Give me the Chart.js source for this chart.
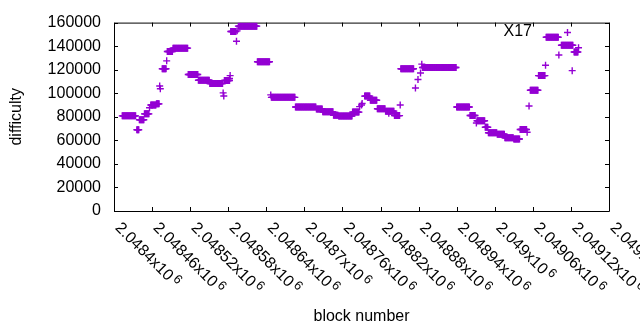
<!DOCTYPE html>
<html><head><meta charset="utf-8">
<script src="https://cdn.jsdelivr.net/npm/chart.js@4.4.1/dist/chart.umd.min.js"></script>
<style>html,body{margin:0;padding:0;background:#fff}#wrap{width:640px;height:330px}</style>
</head><body><div id="wrap"><canvas id="c" width="640" height="330"></canvas></div>
<script>
// ---- data ----
// runs of blocks with the same difficulty
const runStart = [2048413,2048436,2048440,2048448,2048458,2048467,2048476,2048484,2048493,2048517,2048533,2048551,2048574,2048584,2048596,2048626,2048648,2048686,2048719,2048729,2048746,2048754,2048776,2048795,2048804,2048815,2048828,2048842,2048852,2048886,2048940,2048961,2048972,2048985,2048990,2049004,2049016,2049030,2049040,2049056,2049069,2049081,2049105,2049125];
const runEnd   = [2048434,2048439,2048447,2048455,2048466,2048471,2048482,2048492,2048516,2048532,2048550,2048571,2048582,2048592,2048625,2048645,2048685,2048718,2048728,2048745,2048753,2048775,2048786,2048803,2048814,2048827,2048841,2048850,2048872,2048939,2048960,2048969,2048984,2048989,2049003,2049015,2049029,2049039,2049050,2049068,2049079,2049100,2049123,2049131];
const runValue = [80800,69000,77500,82500,90000,91000,120800,135500,138300,115900,111000,108300,110800,152500,157000,126700,96500,88300,86700,84200,81300,80700,84000,97600,94100,86900,84800,81000,120800,121900,88300,81100,76700,71100,66400,65200,62200,61100,69200,102500,115000,147500,140800,135000];
// isolated blocks
const singleBlock = [2048456,2048472,2048473,2048483,2048572,2048573,2048582,2048583,2048593,2048594,2048647,2048787,2048790,2048791,2048833,2048851,2048875,2048879,2048883,2048885,2048971,2049051,2049054,2049080,2049101,2049122,2049132];
const singleValue = [87700,106200,103800,127500,100300,97700,112500,115000,144200,153000,98600,88600,90000,91300,83000,90000,104400,111700,117200,124700,74700,66900,89200,123800,132500,119200,138600];
// axis ticks
const xTickValues = [2048400,2048460,2048520,2048580,2048640,2048700,2048760,2048820,2048880,2048940,2049000,2049060,2049120,2049180];
const xTickMantissa = ['2.0484','2.04846','2.04852','2.04858','2.04864','2.0487','2.04876','2.04882','2.04888','2.04894','2.049','2.04906','2.04912','2.04918'];
const xTickExponent = '6';
const yTickValues = [0,20000,40000,60000,80000,100000,120000,140000,160000];
const seriesName = 'X17';

const points = [];
for (let i = 0; i < runStart.length; i++)
  for (let b = runStart[i]; b <= runEnd[i]; b++) points.push({x: b, y: runValue[i]});
for (let i = 0; i < singleBlock.length; i++) points.push({x: singleBlock[i], y: singleValue[i]});

const FONT = '"Liberation Sans", Arial, sans-serif';
const COLOR = '#9400d3';

const framePlugin = {
  id: 'frame',
  beforeDatasetsDraw(chart) {
    const {ctx, chartArea: a, scales} = chart;
    ctx.save();
    ctx.strokeStyle = '#000';
    ctx.lineWidth = 1;
    ctx.beginPath();
    ctx.rect(a.left + 0.5, a.top + 0.5, a.right - a.left, a.bottom - a.top);
    const L = 4;
    xTickValues.forEach(v => {
      const px = Math.round(scales.x.getPixelForValue(v)) + 0.5;
      ctx.moveTo(px, a.bottom); ctx.lineTo(px, a.bottom - L);
      ctx.moveTo(px, a.top); ctx.lineTo(px, a.top + L);
    });
    yTickValues.forEach(v => {
      const py = Math.round(scales.y.getPixelForValue(v)) + 0.5;
      ctx.moveTo(a.left, py); ctx.lineTo(a.left + L, py);
      ctx.moveTo(a.right, py); ctx.lineTo(a.right - L, py);
    });
    ctx.stroke();
    ctx.restore();
  },
  afterDraw(chart) {
    const {ctx, chartArea: a, scales} = chart;
    ctx.save();
    ctx.fillStyle = '#000';
    xTickValues.forEach((v, i) => {
      const px = scales.x.getPixelForValue(v);
      ctx.save();
      ctx.translate(px + 3.5, a.bottom + 14.5);
      ctx.rotate(Math.PI / 4);
      ctx.textAlign = 'left';
      ctx.textBaseline = 'middle';
      ctx.font = '16px ' + FONT;
      const main = xTickMantissa[i] + 'x10';
      ctx.fillText(main, 0, 0);
      const w = ctx.measureText(main).width;
      ctx.font = '12.8px ' + FONT;
      ctx.fillText(xTickExponent, w + 2.5, -4);
      ctx.restore();
    });
    // key
    ctx.font = '16px ' + FONT;
    ctx.textAlign = 'right';
    ctx.textBaseline = 'middle';
    ctx.fillText(seriesName, 532, 31.5);
    ctx.strokeStyle = COLOR;
    ctx.lineWidth = 1.4;
    ctx.beginPath();
    ctx.moveTo(567.5 - 3.5, 32.5); ctx.lineTo(567.5 + 3.5, 32.5);
    ctx.moveTo(567.5, 32.5 - 3.5); ctx.lineTo(567.5, 32.5 + 3.5);
    ctx.stroke();
    ctx.restore();
  }
};

new Chart(document.getElementById('c'), {
  type: 'scatter',
  data: {
    datasets: [{
      label: seriesName,
      data: points,
      pointStyle: 'cross',
      pointRadius: 3.5,
      pointHoverRadius: 3.5,
      pointBorderWidth: 1.4,
      borderColor: COLOR,
      backgroundColor: COLOR
    }]
  },
  options: {
    responsive: false,
    animation: false,
    devicePixelRatio: 1,
    layout: {padding: {left: 0, right: 31, top: 19, bottom: 0}},
    plugins: {legend: {display: false}, tooltip: {enabled: false}},
    scales: {
      x: {
        type: 'linear',
        min: xTickValues[0],
        max: xTickValues[xTickValues.length - 1],
        ticks: {display: false, stepSize: 60},
        grid: {display: false, drawTicks: false},
        border: {display: false},
        title: {display: true, text: 'block number', color: '#000', font: {family: FONT, size: 16}, padding: {top: 0, bottom: 4}},
        afterFit(s) { s.height = 119; }
      },
      y: {
        min: 0,
        max: 160000,
        ticks: {stepSize: 20000, color: '#000', font: {family: FONT, size: 16}, padding: 13, callback: v => String(v)},
        grid: {display: false, drawTicks: false},
        border: {display: false},
        title: {display: true, text: 'difficulty', color: '#000', font: {family: FONT, size: 16}, padding: {top: 7, bottom: 0}},
        afterFit(s) { s.width = 114; }
      }
    }
  },
  plugins: [framePlugin]
});
</script>
</body></html>
